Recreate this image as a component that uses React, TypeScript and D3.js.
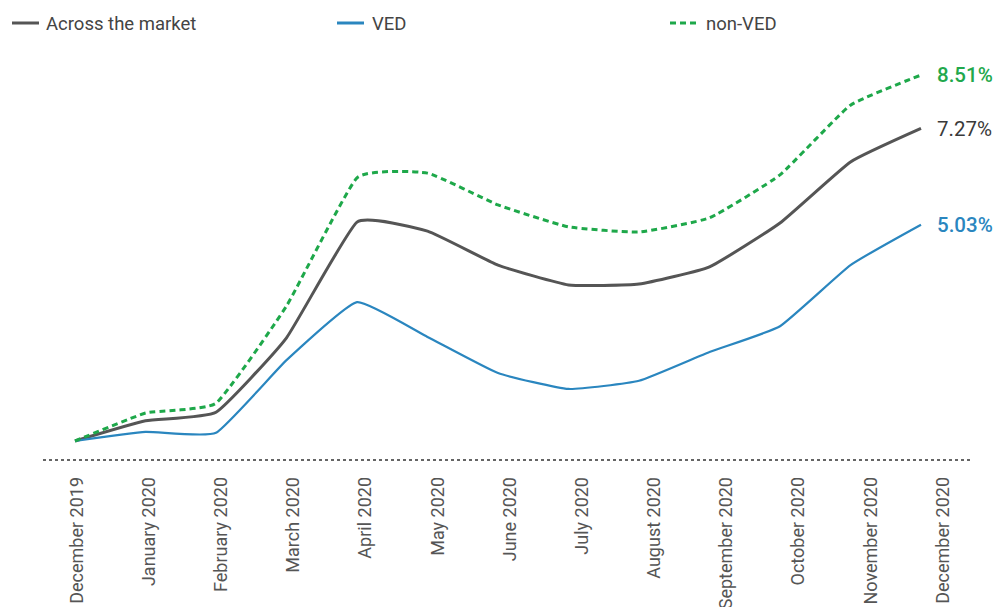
import React from "react";
import * as d3 from "d3";

const months = [
  "December 2019", "January 2020", "February 2020", "March 2020", "April 2020", "May 2020",
  "June 2020", "July 2020", "August 2020", "September 2020", "October 2020", "November 2020", "December 2020",
];
const market = [0, 0.47, 0.67, 2.4, 5.09, 4.88, 4.09, 3.63, 3.65, 4.05, 5.07, 6.49, 7.27];
const ved = [0, 0.21, 0.19, 1.88, 3.23, 2.42, 1.58, 1.21, 1.4, 2.07, 2.67, 4.09, 5.03];
const nonVed = [0, 0.65, 0.88, 3.14, 6.12, 6.23, 5.49, 4.98, 4.86, 5.19, 6.19, 7.81, 8.51];
const endLabels = ["7.27%", "5.03%", "8.51%"];
const legendNames = ["Across the market", "VED", "non-VED"];

const W = 995;
const H = 607;
const FONT = "Roboto, 'Noto Sans', sans-serif";

export default function App() {
  const x = d3.scalePoint<string>().domain(months).range([75, 921]);
  const xLabel = d3.scalePoint<string>().domain(months).range([76.5, 942.5]);
  const y = d3.scaleLinear().domain([0, 9]).range([441, 441 - 9 * 43]);
  const line = d3
    .line<number>()
    .x((_, i) => x(months[i]) as number)
    .y((d) => y(d))
    .curve(d3.curveCardinal.tension(0.6));

  const series = [
    { name: legendNames[0], data: market, color: "#555555", width: 3, dash: undefined as string | undefined, label: endLabels[0], labelColor: "#3a3a3a", weight: 400, lx: 12, tx: 46 },
    { name: legendNames[1], data: ved, color: "#2a86bf", width: 2.2, dash: undefined, label: endLabels[1], labelColor: "#2a86bf", weight: 500, lx: 337, tx: 372 },
    { name: legendNames[2], data: nonVed, color: "#1ea84a", width: 3, dash: "6,4", label: endLabels[2], labelColor: "#22a84c", weight: 500, lx: 670, tx: 706 },
  ];
  const last = months[months.length - 1];

  return (
    <div style={{ position: "fixed", left: 0, top: 0, width: W, height: H, background: "#fff" }}>
      <svg width={W} height={H} style={{ display: "block" }} fontFamily={FONT}>
        {/* legend */}
        {series.map((s) => (
          <g key={s.name}>
            <line x1={s.lx} x2={s.lx + 27} y1={23} y2={23} stroke={s.color} strokeWidth={3} strokeDasharray={s.dash} />
            <text x={s.tx} y={24} dy="0.35em" fontSize={18.5} fill="#444">
              {s.name}
            </text>
          </g>
        ))}
        {/* baseline */}
        <line x1={43} x2={970} y1={460} y2={460} stroke="#333" strokeWidth={1.6} strokeDasharray="3,3" />
        {/* lines */}
        {series.map((s) => (
          <path key={s.name} d={line(s.data) || ""} fill="none" stroke={s.color} strokeWidth={s.width} strokeDasharray={s.dash} strokeLinejoin="round" />
        ))}
        {/* end labels */}
        {series.map((s) => (
          <text key={s.name + "l"} x={(x(last) as number) + 16} y={y(s.data[s.data.length - 1])} dy="0.35em" fontSize={20.5} fontWeight={s.weight} fill={s.labelColor}>
            {s.label}
          </text>
        ))}
        {/* x axis labels */}
        {months.map((m) => (
          <text
            key={m}
            transform={`translate(${xLabel(m)},477) rotate(-90)`}
            textAnchor="end"
            dy="0.35em"
            fontSize={18}
            fill="#555"
          >
            {m}
          </text>
        ))}
      </svg>
    </div>
  );
}
